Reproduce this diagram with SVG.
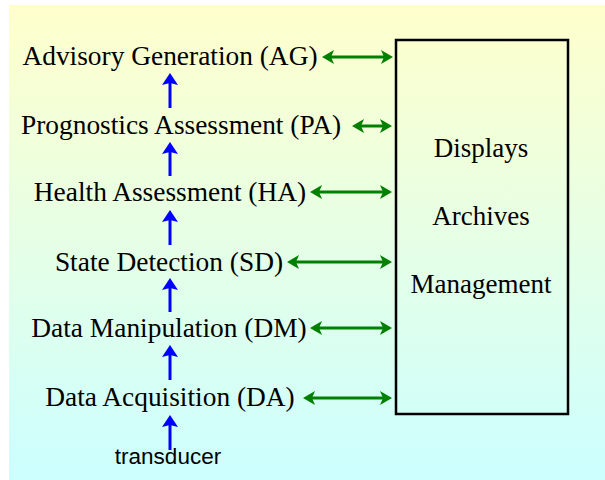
<svg xmlns="http://www.w3.org/2000/svg" width="605" height="480" viewBox="0 0 605 480">
  <defs>
    <linearGradient id="bg" x1="0" y1="0" x2="0" y2="1">
      <stop offset="0" stop-color="#FFFFCC"/>
      <stop offset="1" stop-color="#CCFFFF"/>
    </linearGradient>
    <marker id="head-g" viewBox="0 -7 12 14" markerUnits="userSpaceOnUse" markerWidth="12" markerHeight="14" refX="4" refY="0" orient="auto-start-reverse">
      <path d="M0,-7 L12,0 L0,7 L3,0 z" fill="#008000"/>
    </marker>
    <marker id="head-b" viewBox="0 -8 12 16" markerUnits="userSpaceOnUse" markerWidth="12" markerHeight="16" refX="4" refY="0" orient="auto">
      <path d="M0,-8 L12,0 L0,8 L2,0 z" fill="#0000FF"/>
    </marker>
  </defs>
  <style>
    .lbl { font-family: "Liberation Serif", "Times New Roman", serif; font-size: 27.4px; fill: #000; text-anchor: middle; }
    .box { font-family: "Liberation Serif", "Times New Roman", serif; font-size: 27px; fill: #000; text-anchor: middle; }
    .src { font-family: "Liberation Sans", Arial, sans-serif; font-size: 22.5px; fill: #000; text-anchor: middle; }
    .flow { stroke: #0000FF; stroke-width: 3; fill: none; marker-end: url(#head-b); }
    .link { stroke: #008000; stroke-width: 3; fill: none; marker-start: url(#head-g); marker-end: url(#head-g); }
  </style>

  <rect x="9" y="5" width="596" height="475" fill="url(#bg)"/>

  <g id="ag"><text class="lbl" x="170" y="65">Advisory Generation (AG)</text></g>
  <g id="pa"><text class="lbl" x="181" y="134">Prognostics Assessment (PA)</text></g>
  <g id="ha"><text class="lbl" x="170" y="201">Health Assessment (HA)</text></g>
  <g id="sd"><text class="lbl" x="169" y="271">State Detection (SD)</text></g>
  <g id="dm"><text class="lbl" x="169" y="337">Data Manipulation (DM)</text></g>
  <g id="da"><text class="lbl" x="170" y="406">Data Acquisition (DA)</text></g>
  <g id="transducer"><text class="src" x="168" y="464">transducer</text></g>

  <g id="services">
    <rect x="396" y="40" width="172" height="374" fill="none" stroke="#000" stroke-width="2.5"/>
    <text class="box" x="481" y="157">Displays</text>
    <text class="box" x="481" y="225">Archives</text>
    <text class="box" x="481" y="293">Management</text>
  </g>

  <g id="connectors">
    <path class="flow" d="M170,108 V81"/>
    <path class="flow" d="M170,176 V150"/>
    <path class="flow" d="M170,245 V218"/>
    <path class="flow" d="M170,312 V286"/>
    <path class="flow" d="M170,380 V353"/>
    <path class="flow" d="M170,450 V423"/>

    <path class="link" d="M330,57 H385"/>
    <path class="link" d="M360,126 H384"/>
    <path class="link" d="M318,192 H384"/>
    <path class="link" d="M295,262 H384"/>
    <path class="link" d="M318,328 H384"/>
    <path class="link" d="M311,398 H384"/>
  </g>
</svg>
